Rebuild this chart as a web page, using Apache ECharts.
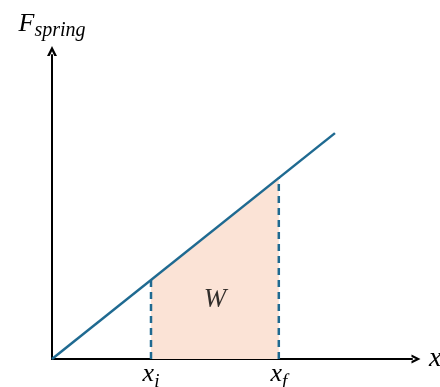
<!DOCTYPE html>
<html>
<head>
<meta charset="utf-8">
<script src="https://cdn.jsdelivr.net/npm/echarts@6/dist/echarts.min.js"></script>
<style>
  html, body { margin: 0; padding: 0; background: #fff; }
  #chart { width: 440px; height: 387px; }
</style>
</head>
<body>
<div id="chart"></div>
<script>
// spring force line, in axis units
var forceLine = [[0, 0], [7.86, 7.43]];
// work area between x_i and x_f
var workArea = [[2.75, 2.6], [6.3, 5.96]];
var xiLine = [[2.75, 0], [2.75, 2.6]];
var xfLine = [[6.3, 0], [6.3, 5.96]];
var tickValues = [2.75, 6.3];
var tickNames = ['{x|x}{s|i}', '{x|x}{s|f}'];
var workLabel = [[4.53, 1.94]];

var mathFont = '"Liberation Serif", "DejaVu Serif", serif';
var lineColor = '#1f6a91';
var arrow = 'path://M0,10 L5,0 L10,10 L7.3,10 L5,5.2 L2.7,10 Z';

var myChart = echarts.init(document.getElementById('chart'));
var option = {
  animation: false,
  grid: { left: 52, right: 28, top: 55, bottom: 28, outerBoundsMode: 'none' },
  xAxis: {
    type: 'value',
    min: 0,
    max: 10,
    name: 'x',
    nameLocation: 'end',
    nameGap: 17,
    nameTextStyle: { fontFamily: mathFont, fontStyle: 'italic', fontSize: 28, color: '#000' },
    splitLine: { show: false },
    axisTick: { show: false },
    axisLine: {
      lineStyle: { color: '#000', width: 2 },
      symbol: ['none', arrow],
      symbolSize: [14, 9],
      symbolOffset: [0, 4]
    },
    axisLabel: {
      customValues: tickValues,
      margin: 2,
      formatter: function (v) {
        return tickNames[tickValues.indexOf(v)];
      },
      rich: {
        x: { fontFamily: mathFont, fontStyle: 'italic', fontSize: 26, color: '#000', lineHeight: 30, verticalAlign: 'top' },
        s: { fontFamily: mathFont, fontStyle: 'italic', fontSize: 19, color: '#000', lineHeight: 30, verticalAlign: 'bottom' }
      }
    }
  },
  yAxis: {
    type: 'value',
    min: 0,
    max: 10,
    name: '{F|F}{s|spring}',
    nameLocation: 'end',
    nameGap: 14,
    nameTextStyle: {
      rich: {
        F: { fontFamily: mathFont, fontStyle: 'italic', fontSize: 26, color: '#000', lineHeight: 30, verticalAlign: 'top' },
        s: { fontFamily: mathFont, fontStyle: 'italic', fontSize: 20, color: '#000', lineHeight: 30, verticalAlign: 'bottom' }
      }
    },
    splitLine: { show: false },
    axisTick: { show: false },
    axisLabel: { show: false },
    axisLine: {
      lineStyle: { color: '#000', width: 2 },
      symbol: ['none', arrow],
      symbolSize: [16, 10],
      symbolOffset: [0, 4]
    }
  },
  series: [
    {
      type: 'line',
      data: workArea,
      symbol: 'none',
      lineStyle: { width: 0 },
      areaStyle: { color: '#fbe3d6', opacity: 1 },
      z: 1
    },
    {
      type: 'line',
      data: xiLine,
      symbol: 'none',
      lineStyle: { color: lineColor, width: 2.5, type: [7, 5] },
      z: 2
    },
    {
      type: 'line',
      data: xfLine,
      symbol: 'none',
      lineStyle: { color: lineColor, width: 2.5, type: [7, 5] },
      z: 2
    },
    {
      type: 'line',
      data: forceLine,
      symbol: 'none',
      lineStyle: { color: lineColor, width: 2.5 },
      z: 3
    },
    {
      type: 'scatter',
      data: workLabel,
      symbolSize: 0,
      label: {
        show: true,
        position: 'inside',
        formatter: 'W',
        fontFamily: mathFont,
        fontStyle: 'italic',
        fontSize: 27,
        color: '#000'
      },
      z: 4
    }
  ]
};
myChart.setOption(option);
</script>
</body>
</html>
